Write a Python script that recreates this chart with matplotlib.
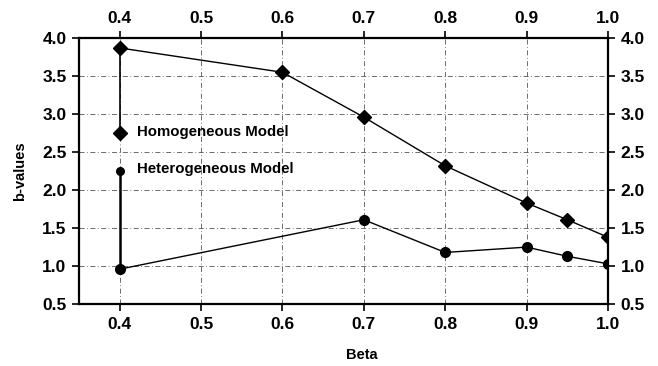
import matplotlib
matplotlib.use("Agg")
import matplotlib.pyplot as plt

# Valeurs
beta_homo = [0.4, 0.6, 0.7, 0.8, 0.9, 0.95, 1.0]
b_homo = [3.87, 3.55, 2.96, 2.32, 1.83, 1.61, 1.38]

beta_hetero = [0.4, 0.7, 0.8, 0.9, 0.95, 1.0]
b_hetero = [0.96, 1.61, 1.18, 1.25, 1.13, 1.03]

# Position des symboles de légende (reliés aux premiers points dans l'original)
legend_beta = 0.4
legend_b_homo = 2.75
legend_b_hetero = 2.25

x_ticks = [0.4, 0.5, 0.6, 0.7, 0.8, 0.9, 1.0]
y_ticks = [0.5, 1.0, 1.5, 2.0, 2.5, 3.0, 3.5, 4.0]

plt.rcParams["font.family"] = ["Liberation Sans", "DejaVu Sans"]

fig = plt.figure(figsize=(6.58, 3.66), dpi=100)
ax = fig.add_axes([0.12, 0.169, 0.804, 0.727])

grid_style = dict(color="#555555", linestyle=(0, (6, 3, 1, 3)), linewidth=0.6)
for xv in x_ticks:
    ax.axvline(xv, zorder=0, **grid_style)
for yv in y_ticks[1:-1]:
    ax.axhline(yv, zorder=0, **grid_style)

# Séries
ax.plot(beta_homo, b_homo, color="black", linewidth=1.0, marker="D",
        markersize=7, zorder=3)
ax.plot(beta_hetero, b_hetero, color="black", linewidth=1.0, marker="o",
        markersize=7, zorder=3)

# Légende « à la main »
ax.plot([legend_beta, legend_beta], [legend_b_homo, b_homo[0]],
        color="black", linewidth=1.2, zorder=3)
ax.plot([legend_beta, legend_beta], [legend_b_hetero, b_hetero[0]],
        color="black", linewidth=1.8, zorder=3)
ax.plot([legend_beta], [legend_b_homo], marker="D", color="black",
        markersize=7, zorder=4)
ax.plot([legend_beta], [legend_b_hetero], marker="o", color="black",
        markersize=5.5, zorder=4)
ax.text(0.421, legend_b_homo + 0.02, "Homogeneous Model", fontsize=10.8,
        fontweight="bold", va="center", ha="left")
ax.text(0.421, legend_b_hetero + 0.03, "Heterogeneous Model", fontsize=10.8,
        fontweight="bold", va="center", ha="left")

ax.set_xlim(0.35, 1.0)
ax.set_ylim(0.5, 4.0)
ax.set_xticks(x_ticks)
ax.set_yticks(y_ticks)
ax.set_xticklabels([f"{v:.1f}" for v in x_ticks])
ax.set_yticklabels([f"{v:.1f}" for v in y_ticks])

ax.tick_params(axis="both", which="both", direction="out", length=5,
               width=1.2, labelsize=12.5, pad=4,
               top=True, right=True, labeltop=True, labelright=True)
for lbl in ax.get_xticklabels() + ax.get_yticklabels():
    lbl.set_fontweight("bold")

for side in ["left", "bottom", "top", "right"]:
    ax.spines[side].set_linewidth(1.6)

ax.set_xlabel("Beta", fontsize=10.5, fontweight="bold")
ax.xaxis.set_label_coords(0.535, -0.165)
ax.set_ylabel("b-values", fontsize=10.5, fontweight="bold")
ax.yaxis.set_label_coords(-0.098, 0.5)

fig.savefig("out.png", dpi=100)
